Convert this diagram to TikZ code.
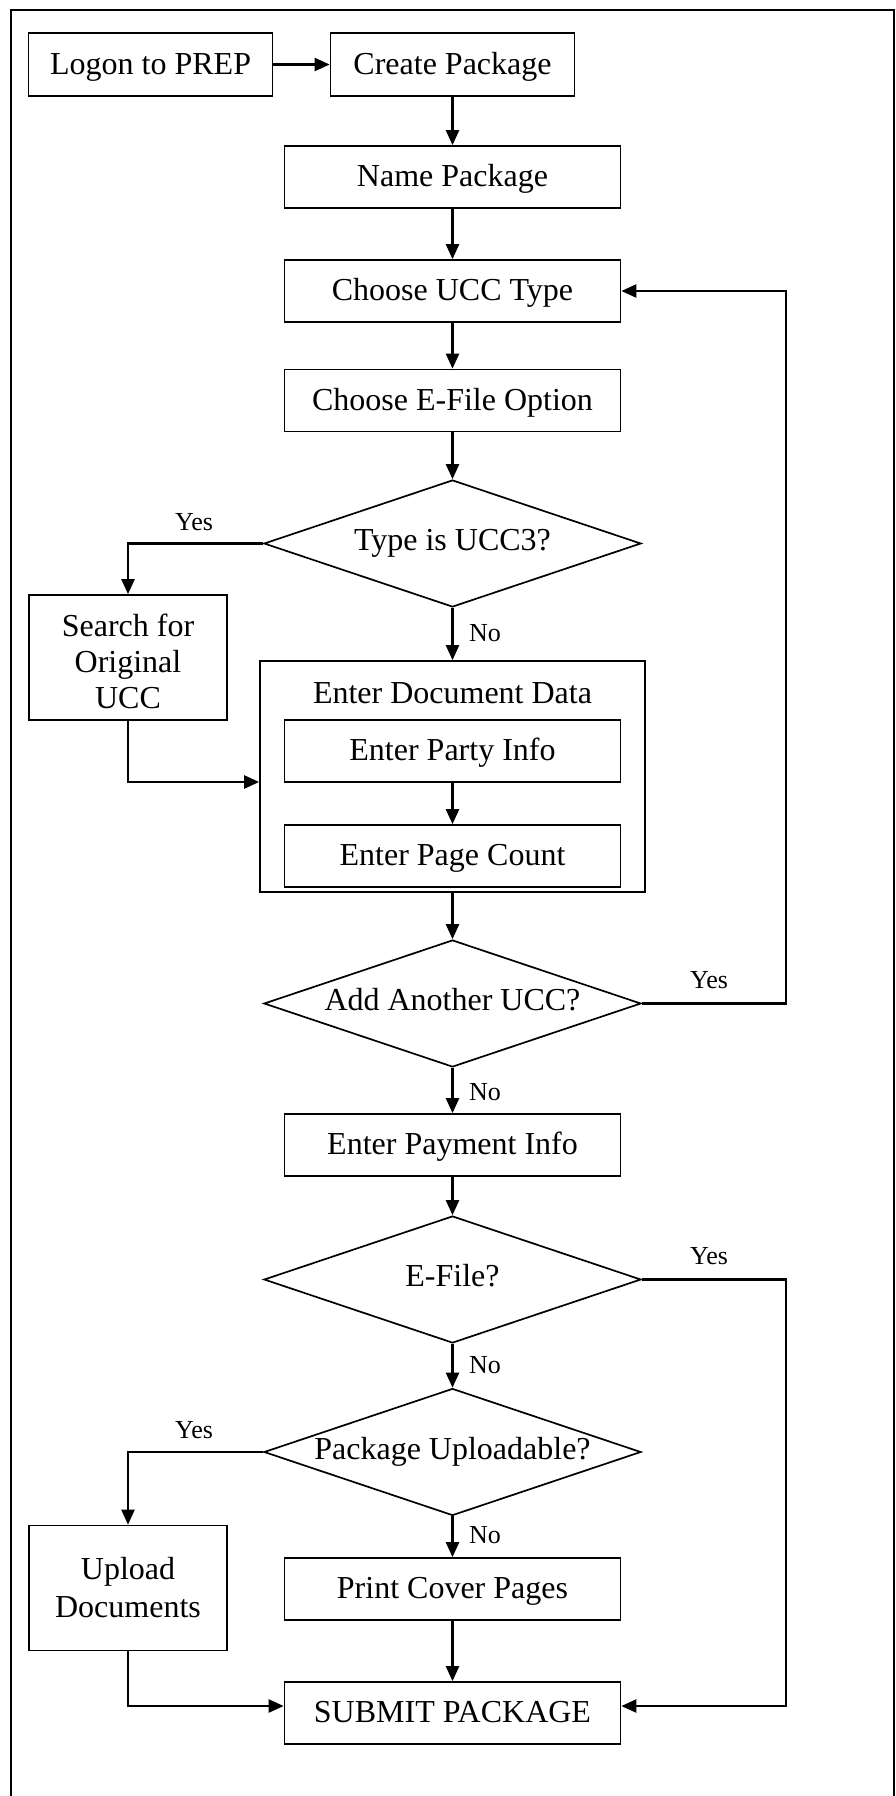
\documentclass[tikz,border=0pt]{standalone}
\usepackage{fontspec}
\setmainfont{Liberation Serif}
\usetikzlibrary{shapes.geometric,arrows.meta}
\begin{document}
\begin{tikzpicture}[x=1pt,y=-1pt,
  every node/.style={font=\fontsize{32}{36}\selectfont},
  stepbox/.style={draw,line width=1.7pt,rectangle,inner sep=0pt,
    minimum width=336pt,minimum height=62pt,align=center,
    text height=22pt,text depth=3pt},
  sidebox/.style={draw,line width=1.7pt,rectangle,inner sep=0pt,
    minimum width=198pt,minimum height=125pt,align=center},
  topbox/.style={stepbox,minimum width=244pt,minimum height=63pt},
  container/.style={draw,line width=1.7pt,rectangle,inner sep=0pt,
    minimum width=385pt,minimum height=231pt},
  caption/.style={inner sep=0pt,text height=22pt,text depth=3pt},
  decision/.style={draw,line width=1.7pt,diamond,inner sep=0pt,
    minimum width=377pt,minimum height=127pt,
    text height=22pt,text depth=8pt},
  flow/.style={line width=2.4pt,-{Triangle[length=15pt,width=13pt]}},
  answer/.style={font=\fontsize{26}{30}\selectfont,inner sep=0pt}
]
\useasboundingbox (0,0) rectangle (896,1796);
% page frame, open at the bottom
\draw[line width=2pt] (11,1800) -- (11,10) -- (894,10) -- (894,1800);

% main column
\node[topbox] (logon)  at (150.6,64.5) {Logon to PREP};
\node[topbox] (create) at (452.5,64.5) {Create Package};
\node[stepbox] (name)  at (452.5,177) {Name Package};
\node[stepbox] (ucc)   at (452.5,291) {Choose UCC Type};
\node[stepbox] (eopt)  at (452.5,400.5) {Choose E-File Option};
\node[decision] (d1)   at (452.5,543.5) {\makebox[0pt]{Type is UCC3?}};
\node[sidebox] (search) at (128,657.5) {\rule{0pt}{30pt}Search for\\Original\\UCC};

\node[container] (docdata) at (452.5,776.5) {};
\node[caption] (doctitle) at (452.5,694) {Enter Document Data};
\node[stepbox] (party) at (452.5,751) {Enter Party Info};
\node[stepbox] (pages) at (452.5,856) {Enter Page Count};

\node[decision] (d2)   at (452.5,1003.5) {\makebox[0pt]{Add Another UCC?}};
\node[stepbox] (pay)   at (452.5,1145) {Enter Payment Info};
\node[decision] (d3)   at (452.5,1279.5) {\makebox[0pt]{E-File?}};
\node[decision] (d4)   at (452.5,1452) {\makebox[0pt]{Package Uploadable?}};
\node[sidebox] (upload) at (128,1588) {Upload\\[2pt]Documents};
\node[stepbox] (print) at (452.5,1589) {Print Cover Pages};
\node[stepbox] (submit) at (452.5,1713) {SUBMIT PACKAGE};

% connectors
\draw[flow] (logon) -- (create);
\draw[flow] (create) -- (name);
\draw[flow] (name) -- (ucc);
\draw[flow] (ucc) -- (eopt);
\draw[flow] (eopt) -- (d1);
\draw[flow] (d1.west) -| (search.north);
\draw[flow] (d1) -- (docdata);
\draw[flow] (search.south) |- ([yshift=-5.5pt]docdata.west);
\draw[flow] (party) -- (pages);
\draw[flow] (docdata) -- (d2);
\draw[flow] (d2.east) -- ++(144,0) |- (ucc.east);
\draw[flow] (d2) -- (pay);
\draw[flow] (pay) -- (d3);
\draw[flow] (d3.east) -- ++(144,0) |- ([yshift=7pt]submit.east);
\draw[flow] (d3) -- (d4);
\draw[flow] (d4.west) -| (upload.north);
\draw[flow] (d4) -- (print);
\draw[flow] (print) -- (submit);
\draw[flow] (upload.south) |- ([yshift=7pt]submit.west);

% branch labels
\node[answer] (y1) at (194,522) {Yes};
\node[answer] (n1) at (485,633) {No};
\node[answer] (y2) at (709,980) {Yes};
\node[answer] (n2) at (485,1092) {No};
\node[answer] (y3) at (709,1256) {Yes};
\node[answer] (n3) at (485,1365) {No};
\node[answer] (y4) at (194,1430) {Yes};
\node[answer] (n4) at (485,1535) {No};
\end{tikzpicture}
\end{document}
